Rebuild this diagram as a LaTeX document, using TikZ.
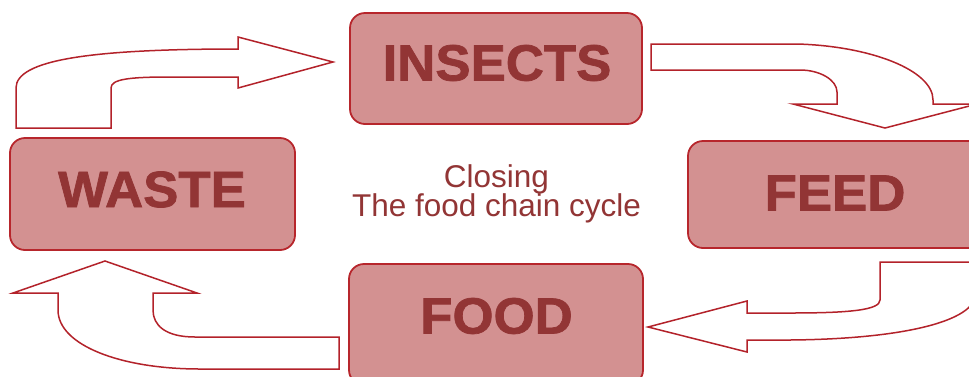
\documentclass[tikz,border=0pt]{standalone}
\usepackage{fontspec}
\setmainfont{Liberation Sans}
\newfontfamily\heavyfont{Liberation Sans Bold}[FakeBold=1.4]
\definecolor{boxfill}{HTML}{D39191}
\definecolor{boxline}{HTML}{B7262C}
\definecolor{txt}{HTML}{923535}
\definecolor{arrline}{HTML}{B3222A}
\newcommand{\stagetext}[1]{\scalebox{1.035}[1]{#1}}
\begin{document}
\begin{tikzpicture}[x=1pt,y=-1pt,
  stagebox/.style={draw=boxline,line width=1.8pt,fill=boxfill,rounded corners=15pt,inner sep=0pt},
  stagelabel/.style={text=txt,font=\fontsize{51}{51}\heavyfont,inner sep=0pt,anchor=center},
  centertext/.style={text=txt,font=\fontsize{31.5}{31.5}\selectfont,inner sep=0pt,anchor=base},
  blockarrow/.style={draw=arrline,line width=1.5pt,fill=white,line join=miter}]
\useasboundingbox (0,0) rectangle (969,376);
\clip (0,0) rectangle (969,376);
% boxes
\node[stagebox,minimum width=292pt,minimum height=111pt] (insects) at (496,68.5) {};
\node[stagebox,minimum width=285pt,minimum height=112pt] (waste) at (152.5,194) {};
\node[stagebox,minimum width=297pt,minimum height=107pt] (feed) at (836.5,194.5) {};
\node[stagebox,minimum width=294pt,minimum height=121pt] (food) at (496,324.5) {};
% labels
\node[stagelabel] (insectsT) at (497,63) {\stagetext{INSECTS}};
\node[stagelabel] (wasteT) at (152,189.5) {\stagetext{WASTE}};
\node[stagelabel] (feedT) at (835,193) {\stagetext{FEED}};
\node[stagelabel] (foodT) at (496.5,316) {\stagetext{FOOD}};
% centre text
\node[centertext] (c1) at (496.5,187) {Closing};
\node[centertext] (c2) at (496.5,216) {The food chain cycle};
% arrow waste -> insects
\draw[blockarrow] (16,128) -- (16,88) .. controls (16,60) and (90,49) .. (238,49)
  -- (238,37) -- (333,62) -- (238,88) -- (238,77) -- (170,77)
  .. controls (130,77) and (111,79) .. (111,88) -- (111,128) -- cycle;
% arrow insects -> feed
\draw[blockarrow] (651,44) -- (797,44) .. controls (870,46) and (933,70) .. (933,100)
  -- (933,104) -- (977,104) -- (885,128) -- (793,104) -- (837,104) -- (837,92)
  .. controls (837,80) and (820,70) .. (800,70) -- (651,70) -- cycle;
% arrow feed -> food
\draw[blockarrow] (880,262) -- (976,262) -- (976,293)
  .. controls (976,322) and (900,339) .. (790,340) -- (747,340) -- (747,352)
  -- (648,327) -- (747,301) -- (747,313) -- (790,313)
  .. controls (850,313) and (880,310) .. (880,300) -- cycle;
% arrow food -> waste
\draw[blockarrow] (339,337) -- (195,337) .. controls (165,337) and (153,325) .. (153,310)
  -- (153,293) -- (197,293) -- (105,261) -- (13,293) -- (58,293) -- (58,310)
  .. controls (58,345) and (120,369) .. (200,369) -- (339,369) -- cycle;
\end{tikzpicture}
\end{document}
